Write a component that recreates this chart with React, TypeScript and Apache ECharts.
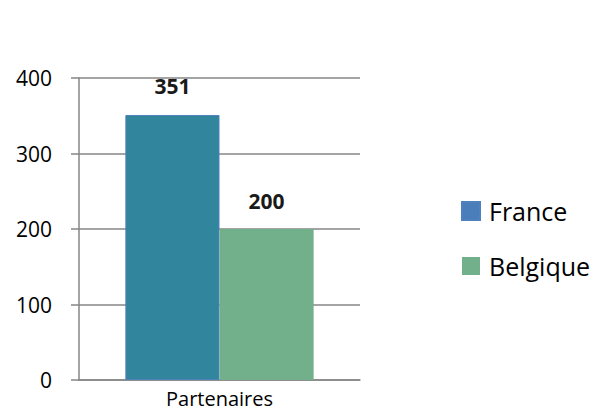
import React, { useEffect, useRef } from "react";
import * as echarts from "echarts";

const categories = ["Partenaires"];
const seriesNames = ["France", "Belgique"];
const franceValues = [351];
const belgiqueValues = [200];
const yTicks = [0, 100, 200, 300, 400];

export default function App() {
  const ref = useRef<HTMLDivElement>(null);
  useEffect(() => {
    const chart = echarts.init(ref.current!, null, { renderer: "svg" });
    const font = "'Open Sans', 'DejaVu Sans', sans-serif";
    chart.setOption({
      animation: false,
      textStyle: { fontFamily: font },
      grid: { left: 79, right: 242, top: 78, bottom: 30 },
      legend: {
        orient: "vertical",
        left: 461,
        top: 198,
        padding: 0,
        itemWidth: 18,
        itemHeight: 18,
        itemGap: 29,
        icon: "rect",
        textStyle: { fontSize: 25, lineHeight: 26, color: "#000", fontFamily: font, padding: [0, 0, 0, 4] },
        data: [
          { name: seriesNames[0], itemStyle: { color: "#4A7EBB" } },
          { name: seriesNames[1], itemStyle: { color: "#71B08A" } },
        ],
      },
      xAxis: {
        type: "category",
        data: categories,
        axisLine: { lineStyle: { color: "#868686", width: 1.5 } },
        axisTick: { show: false },
        axisLabel: { fontSize: 20, color: "#000", margin: 8, fontFamily: font },
      },
      yAxis: {
        type: "value",
        min: yTicks[0],
        max: yTicks[yTicks.length - 1],
        interval: 100,
        axisLine: { show: true, lineStyle: { color: "#868686", width: 1.5 } },
        axisTick: { show: true, length: 8, lineStyle: { color: "#868686", width: 1.5 } },
        splitLine: { lineStyle: { color: "#868686", width: 1.5 } },
        axisLabel: { fontSize: 21, color: "#000", margin: 27, fontFamily: font },
      },
      series: [
        {
          name: seriesNames[0],
          type: "bar",
          data: franceValues,
          barGap: "0%",
          barCategoryGap: "33%",
          itemStyle: { color: "#31859C", borderColor: "#4F81BD", borderWidth: 1 },
          label: { show: true, position: "top", distance: 18, fontSize: 21, fontWeight: "bold", color: "#1a1a1a", fontFamily: font },
        },
        {
          name: seriesNames[1],
          type: "bar",
          data: belgiqueValues,
          itemStyle: { color: "#71B08A" },
          label: { show: true, position: "top", distance: 18, fontSize: 21, fontWeight: "bold", color: "#1a1a1a", fontFamily: font },
        },
      ],
    });
    return () => chart.dispose();
  }, []);
  return <div ref={ref} style={{ width: 602, height: 410, position: "absolute", left: 0, top: 0 }} />;
}
